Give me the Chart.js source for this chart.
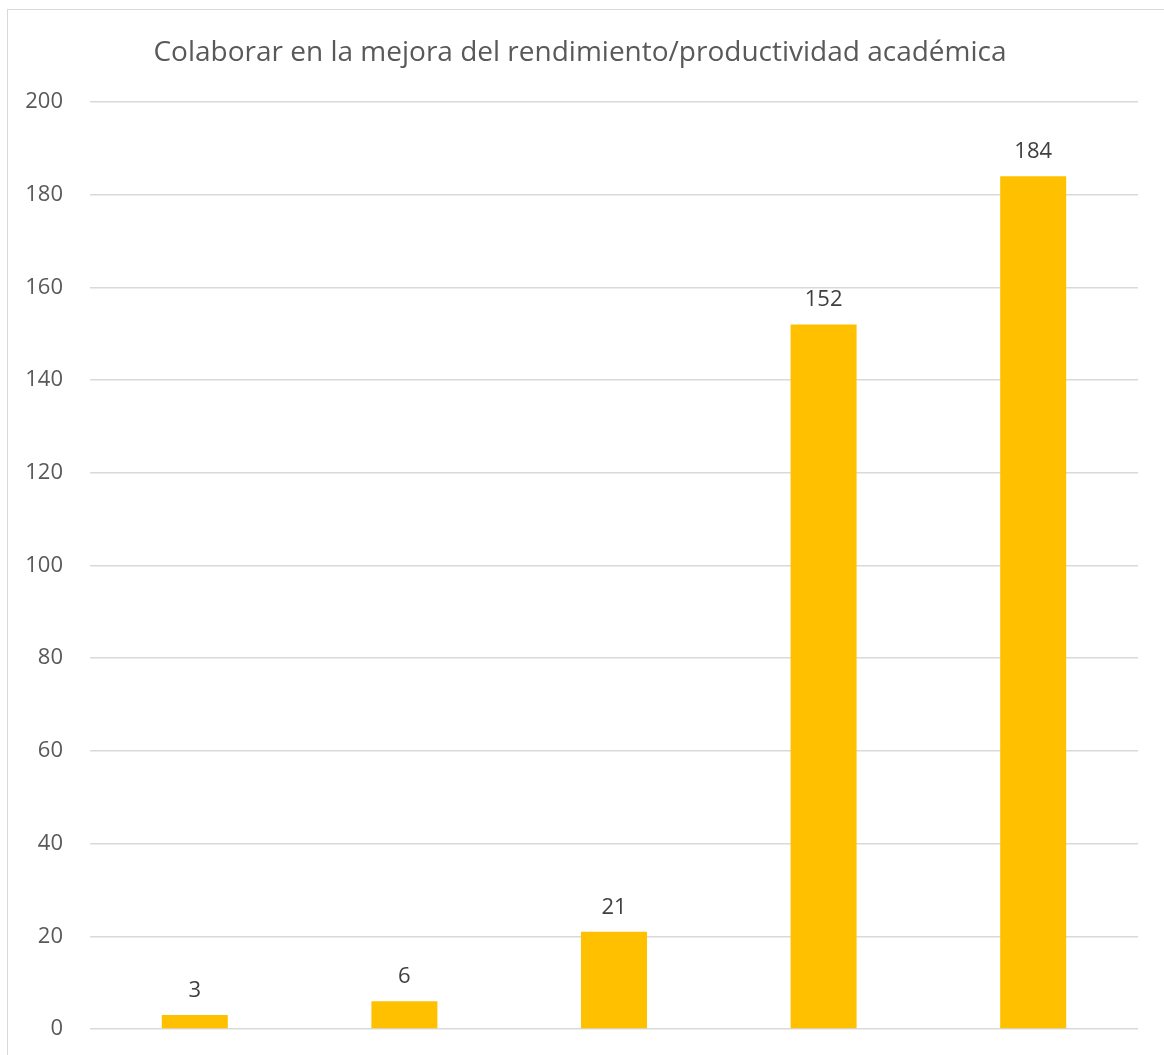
<!DOCTYPE html>
<html>
<head>
<meta charset="utf-8">
<script src="https://cdn.jsdelivr.net/npm/chart.js@4/dist/chart.umd.min.js"></script>
<style>
  html, body { margin: 0; padding: 0; background: #fff; overflow: hidden; }
  #frame { position: absolute; left: 7px; top: 9px; width: 1200px; height: 1100px; border: 1.5px solid #d9d9d9; box-sizing: border-box; }
  #c { position: absolute; left: 0; top: 0; }
</style>
</head>
<body>
<div id="frame"></div>
<canvas id="c" width="1164" height="1055"></canvas>
<script>
const titleText = 'Colaborar en la mejora del rendimiento/productividad académica';
const categories = ['1', '2', '3', '4', '5'];
const values = [3, 6, 21, 152, 184];
const yTicks = { min: 0, max: 200, step: 20 };

const FONT = "'Open Sans', 'DejaVu Sans', sans-serif";

const dataLabels = {
  id: 'dataLabels',
  afterDatasetsDraw(chart) {
    const ctx = chart.ctx;
    ctx.save();
    ctx.font = '22px ' + FONT;
    ctx.fillStyle = '#404040';
    ctx.textAlign = 'center';
    ctx.textBaseline = 'alphabetic';
    chart.getDatasetMeta(0).data.forEach((bar, i) => {
      ctx.fillText(String(values[i]), bar.x, bar.y - 18);
    });
    ctx.restore();
  }
};

new Chart(document.getElementById('c'), {
  type: 'bar',
  data: {
    labels: categories,
    datasets: [{
      data: values,
      backgroundColor: '#FFC000',
      borderWidth: 0,
      barPercentage: 0.315,
      categoryPercentage: 1.0
    }]
  },
  options: {
    responsive: false,
    animation: false,
    devicePixelRatio: 1,
    layout: { padding: { top: 0, right: 26, bottom: 26, left: 22 } },
    plugins: {
      legend: { display: false },
      tooltip: { enabled: false },
      title: {
        display: true,
        text: titleText,
        color: '#595959',
        font: { family: FONT, size: 28, weight: 'normal' },
        padding: { top: 36, bottom: 32.4 }
      }
    },
    scales: {
      x: {
        grid: { display: false, drawTicks: false },
        border: { display: false },
        ticks: { display: false },
        afterFit(scale) { scale.height = 0; }
      },
      y: {
        min: yTicks.min,
        max: yTicks.max,
        ticks: {
          stepSize: yTicks.step,
          color: '#595959',
          font: { family: FONT, size: 22 },
          padding: 27
        },
        grid: { color: '#d9d9d9', lineWidth: 1.5, drawTicks: false },
        border: { display: false },
        afterFit(scale) {
          scale.width = 68;
          scale.paddingTop = 0;
          scale.paddingBottom = 0;
        }
      }
    }
  },
  plugins: [dataLabels]
});
</script>
</body>
</html>
